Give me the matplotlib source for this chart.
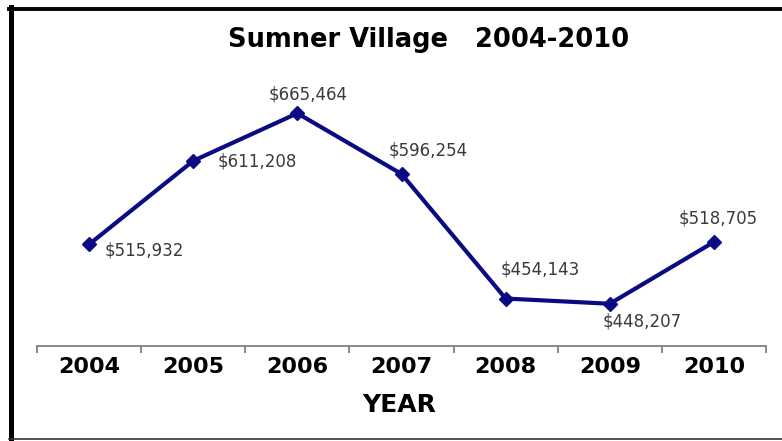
import matplotlib
matplotlib.use('Agg')
import matplotlib.pyplot as plt
from matplotlib.lines import Line2D
import numpy as np

years = ['2004', '2005', '2006', '2007', '2008', '2009', '2010']
values = [515932, 611208, 665464, 596254, 454143, 448207, 518705]

# label offsets in pixels (dx, dy) and alignment
label_offsets = [(16, -6, 'left'), (24, -1, 'left'), (11, 19, 'center'),
                 (27, 23, 'center'), (35, 29, 'center'), (32, -18, 'center'),
                 (4, 23, 'center')]

fig = plt.figure(figsize=(7.82, 4.41), dpi=100)
ax = fig.add_axes([37 / 782, 1 - 346 / 441, 729 / 782, 263 / 441])

x = np.arange(len(years))
ax.plot(x, values, color='#0a0a82', linewidth=3, marker='D', markersize=7,
        solid_joinstyle='miter', zorder=3)

for xi, v, (dx, dy, ha) in zip(x, values, label_offsets):
    ax.annotate(f'${v:,}', (xi, v), xytext=(dx, dy), textcoords='offset pixels',
                ha=ha, va='center', fontsize=12, color='#3a3a3a',
                family='DejaVu Sans')

ax.set_xlim(-0.5, len(years) - 0.5)
ax.set_ylim(400000, 700000)
ax.set_yticks([])
for s in ['top', 'right', 'left']:
    ax.spines[s].set_visible(False)
ax.spines['bottom'].set_color('#7f7f7f')
ax.spines['bottom'].set_linewidth(1.3)

# ticks between categories, labels centred on them
ax.set_xticks(np.arange(-0.5, len(years), 1))
ax.set_xticklabels([])
ax.tick_params(axis='x', direction='out', length=5, width=1.3, color='#7f7f7f')
ax.set_xticks(x, minor=True)
ax.set_xticklabels(years, minor=True, fontsize=16, fontweight='bold',
                   family='DejaVu Sans')
ax.tick_params(axis='x', which='minor', length=0, pad=8)

fig.text(429 / 782, 1 - 40 / 441, 'Sumner Village   2004-2010', ha='center',
         va='center', fontsize=18.5, fontweight='bold', family='DejaVu Sans')
fig.text(399 / 782, 1 - 405 / 441, 'YEAR', ha='center', va='center',
         fontsize=18, fontweight='bold', family='DejaVu Sans')

# frame around the picture
fig.add_artist(Line2D([10.5 / 782, 10.5 / 782], [0, 1 - 7 / 441], color='black',
                      linewidth=3.6, transform=fig.transFigure))
fig.add_artist(Line2D([8.5 / 782, 1], [1 - 8.5 / 441, 1 - 8.5 / 441], color='black',
                      linewidth=2.8, transform=fig.transFigure))
fig.add_artist(Line2D([9 / 782, 1], [1 - 438.5 / 441, 1 - 438.5 / 441], color='#333333',
                      linewidth=1.2, transform=fig.transFigure))

fig.savefig('out.png', dpi=100)
